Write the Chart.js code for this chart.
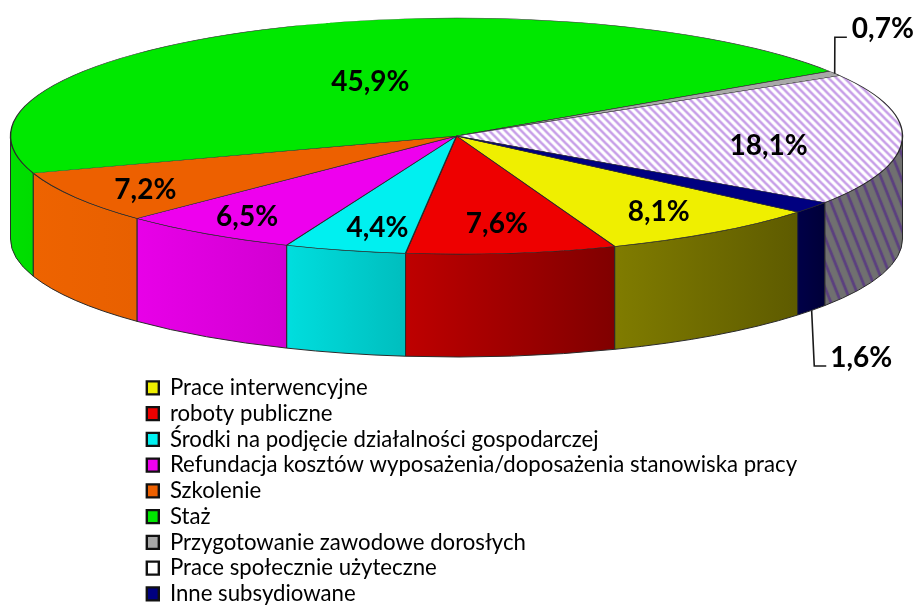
<!DOCTYPE html>
<html><head><meta charset="utf-8">
<style>html,body{margin:0;padding:0;background:#fff}canvas{display:block}</style>
<script src="https://cdn.jsdelivr.net/npm/chart.js@4"></script>
</head><body>
<canvas id="c" width="916" height="605"></canvas>
<script>
const categories = ['Prace interwencyjne','roboty publiczne','Środki na podjęcie działalności gospodarczej','Refundacja kosztów wyposażenia/doposażenia stanowiska pracy','Szkolenie','Staż','Przygotowanie zawodowe dorosłych','Prace społecznie użyteczne','Inne subsydiowane'];
const shares = [8.1,7.6,4.4,6.5,7.2,45.9,0.7,18.1,1.6];
const topColors = ['#EFEF00','#EE0000','#00F0F0','#EE00EE','#ED6000','#00E800','#A8A8A8',null,'#000080'];
const wallLight = ['#807C00','#BE0000','#00DEDE','#E800E8','#EE6300','#00E000','#888888',null,'#000048'];
const wallDark  = ['#5E5B00','#800000','#00BEBE','#D200D2','#E86000','#00DC00','#888888',null,'#000038'];
// label placement: fraction of radius along slice mid-angle, then pixel nudge
const labelFrac = [.78,.75,.78,.83,.84,.5,1.13,.7,1.12];
const labelNudge = [[1,1],[-1,0],[8,3],[-2,0],[9,2],[11,-1],[-1,-36],[0,7],[7,142]];
const leaderOffset = {6:[[-48,8],[-36,8]], 8:[[-47,8],[-35,8]]};

const RX=446, RY=118, CX=456.5, CY=136, DEPTH=103, K=RY/RX;

function stripes(bg, fg, size, lw){
  const t=document.createElement('canvas'); t.width=t.height=size;
  const g=t.getContext('2d');
  g.fillStyle=bg; g.fillRect(0,0,size,size);
  g.strokeStyle=fg; g.lineWidth=lw;
  for(let i=-1;i<=1;i++){ g.beginPath(); g.moveTo(i*size-1,-1); g.lineTo(i*size+size+1,size+1); g.stroke(); }
  return t;
}
const ctx0=document.getElementById('c').getContext('2d');
const hatchTop=ctx0.createPattern(stripes('#FFFFFF','#C8A0E8',8,2.6),'repeat');
hatchTop.setTransform(new DOMMatrix().scale(1,1/K));
const hatchWall=ctx0.createPattern(stripes('#707070','#5B3F80',10,2),'repeat');
hatchWall.setTransform(new DOMMatrix().scale(1,2.5));
const fills=topColors.map(c=>c||hatchTop);

const pie3d={
  id:'pie3d',
  beforeDraw(chart){
    const l=chart.legend; l.left=143.25; l.top=373.25; l.bottom=700;
  },
  beforeDatasetsDraw(chart){
    const c=chart.ctx, arcs=chart.getDatasetMeta(0).data;
    arcs.forEach((a,i)=>{
      const ranges=[[0,Math.PI],[2*Math.PI,3*Math.PI]];
      ranges.forEach(([lo,hi])=>{
        const s=Math.max(a.startAngle,lo), e=Math.min(a.endAngle,hi);
        if(e<=s) return;
        c.save();
        c.beginPath();
        c.ellipse(CX,CY,RX,RY,0,s,e);
        c.ellipse(CX,CY+DEPTH,RX,RY,0,e,s,true);
        c.closePath();
        if(wallLight[i]){
          const xl=CX+RX*Math.cos(e), xr=CX+RX*Math.cos(s);
          const g=c.createLinearGradient(xl,0,xr,0);
          g.addColorStop(0,wallLight[i]); g.addColorStop(1,wallDark[i]);
          c.fillStyle=g;
        } else c.fillStyle=hatchWall;
        c.fill();
        c.strokeStyle='#2a2a2a'; c.lineWidth=1; c.stroke();
        c.restore();
      });
    });
    c.save();
    const y0=arcs[0].y, x0=arcs[0].x;
    c.translate(CX,CY); c.scale(1,K); c.translate(-x0,-y0);
  },
  afterDatasetsDraw(chart){
    const c=chart.ctx; c.restore();
    const arcs=chart.getDatasetMeta(0).data;
    c.save();
    c.font='700 28px Lato'; c.fillStyle='#000'; c.textAlign='center'; c.textBaseline='middle';
    arcs.forEach((a,i)=>{
      const m=(a.startAngle+a.endAngle)/2, cs=Math.cos(m), sn=Math.sin(m);
      const lx=CX+RX*labelFrac[i]*cs+labelNudge[i][0], ly=CY+RY*labelFrac[i]*sn+labelNudge[i][1];
      if(leaderOffset[i]){
        const front=sn>0?DEPTH:0;
        c.beginPath(); c.moveTo(CX+RX*cs,CY+RY*sn+front);
        leaderOffset[i].forEach(o=>c.lineTo(lx+o[0],ly+o[1]));
        c.strokeStyle='#1a1a1a'; c.lineWidth=1.6; c.stroke();
      }
      c.fillText(shares[i].toFixed(1).replace('.',',')+'%',lx,ly);
    });
    c.restore();
  }
};

new Chart(ctx0,{
  type:'pie',
  data:{labels:categories,datasets:[{data:shares,backgroundColor:fills,borderColor:'#2a2a2a',borderWidth:1.4,radius:RX,clip:false}]},
  options:{
    responsive:false,animation:false,rotation:130.1,
    events:[],
    plugins:{
      tooltip:{enabled:false},
      legend:{position:'chartArea',align:'start',
        labels:{font:{family:'Lato',size:22.2},color:'#000',boxWidth:12,boxHeight:13,padding:3.55,
          generateLabels(chart){
            return Chart.overrides.doughnut.plugins.legend.labels.generateLabels(chart).map((it,i)=>{
              it.strokeStyle='#111'; it.lineWidth=2.4;
              if(!topColors[i]) it.fillStyle='#FFFFFF';
              return it;
            });
          }}}
    }
  },
  plugins:[pie3d]
});
</script>
</body></html>
